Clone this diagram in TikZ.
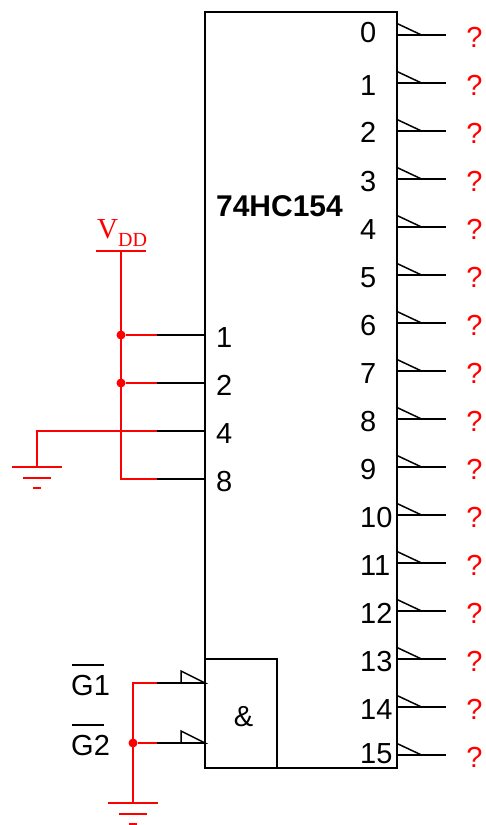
\documentclass[tikz,border=0pt]{standalone}
\usepackage{fontspec}
\setmainfont{Liberation Sans}
\newfontfamily\serifrm{Liberation Serif}
\definecolor{wirered}{RGB}{255,0,0}
\tikzset{
  x=1pt,y=-1pt,
  chipbox/.style={draw=black,line width=2pt,fill=none,line join=miter},
  blackwire/.style={draw=black,line width=1.5pt},
  redwire/.style={draw=wirered,line width=1.6pt},
  pinlabel/.style={font=\fontsize{29}{29}\selectfont,text=black,inner sep=0pt,anchor=base},
  qmark/.style={font=\fontsize{29}{29}\selectfont,text=wirered,inner sep=0pt,anchor=base},
  junction/.style={circle,fill=wirered,draw=none,minimum size=9pt,inner sep=0pt},
}
\begin{document}
\begin{tikzpicture}
\useasboundingbox (0,0) rectangle (486,825);
% chip
\draw[chipbox] (205,12) rectangle (397,768);
\draw[chipbox] (205,659) rectangle (277,768);
\node[font=\bfseries\fontsize{30}{30}\selectfont,inner sep=0pt,anchor=base] (title) at (279.5,216) {74HC154};
\node[pinlabel] (amp) at (243.5,726) {\&};
% outputs
\foreach \i/\ly in {0/42,1/95,2/142,3/191,4/239,5/287,6/335,7/383,8/431,9/479,10/527,11/575,12/623,13/671,14/719,15/763}{
  \pgfmathsetmacro{\yy}{35+48*\i}
  \coordinate (o\i) at (397,\yy);
  \coordinate (e\i) at (446,\yy);
  \coordinate (t\i) at (397,\yy-11.5);
  \coordinate (p\i) at (421.5,\yy);
  \draw[blackwire] (o\i) -- (e\i);
  \draw[blackwire] (t\i) -- (p\i);
  \node[pinlabel,anchor=base west] (ol\i) at (360,\ly) {\i};
  \node[qmark] (q\i) at (474.5,\yy+12) {?};
}
% inputs
\foreach \n/\yy in {1/335,2/383,4/431,8/479}{
  \coordinate (ia\n) at (205,\yy);
  \coordinate (ib\n) at (157,\yy);
  \draw[blackwire] (ib\n) -- (ia\n);
  \node[pinlabel,anchor=base west] (il\n) at (216,\yy+12) {\n};
}
% VDD
\coordinate (v) at (121,251);
\coordinate (vl) at (96,251);
\coordinate (vr) at (146,251);
\draw[redwire] (vl) -- (vr);
\draw[redwire] (v) |- (ib8);
\node[junction] (j1) at (121,335) {};
\node[junction] (j2) at (121,383) {};
\draw[redwire] (j1) -- (ib1);
\draw[redwire] (j2) -- (ib2);
\node[inner sep=0pt,anchor=base west,text=wirered,font=\serifrm] (vdd) at (97,238) {\fontsize{29}{29}\selectfont V\raisebox{-8pt}{\fontsize{20}{20}\selectfont DD}};
% left ground
\coordinate (g1) at (37,467);
\draw[redwire] (ib4) -| (g1);
\draw[redwire] (12,467) -- (62,467);
\draw[redwire] (23,478) -- (51,478);
\draw[redwire] (33,488) -- (41,488);
% enable inputs
\foreach \n/\yy in {1/683,2/743}{
  \coordinate (ga\n) at (205,\yy);
  \coordinate (gb\n) at (157,\yy);
  \draw[blackwire] (gb\n) -- (ga\n);
  \draw[blackwire] (181,\yy) -- (181,\yy-12) -- (ga\n) -- cycle;
  \node[pinlabel,anchor=base west] (gl\n) at (71,\yy+12) {G\n};
  \draw[draw=black,line width=1.3pt] (72,\yy-18) -- (104,\yy-18);
}
\coordinate (g2) at (133,803);
\draw[redwire] (gb1) -| (g2);
\node[junction] (j3) at (133,743) {};
\draw[redwire] (j3) -- (gb2);
\draw[redwire] (108,803) -- (158,803);
\draw[redwire] (119,814) -- (147,814);
\draw[redwire] (129,824) -- (137,824);
\end{tikzpicture}
\end{document}
